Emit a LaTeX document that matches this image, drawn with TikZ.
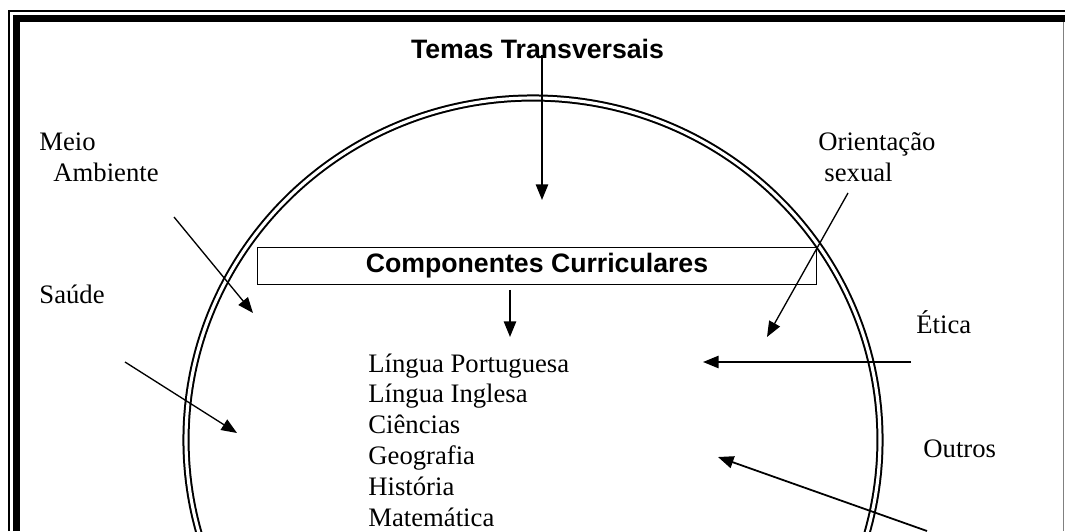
\documentclass[tikz,border=0pt]{standalone}
\usepackage{fontspec}
\setmainfont{Liberation Serif}
\setsansfont{Liberation Sans}
\usetikzlibrary{arrows.meta}
\tikzstyle{fleche} = [-{Triangle[length=7pt,width=5.5pt]},line width=0.6pt]
\tikzstyle{etiquette} = [anchor=base west,inner sep=0pt,font=\fontsize{12pt}{14pt}\selectfont]
\tikzstyle{titre} = [inner sep=0pt,font=\fontsize{12pt}{14pt}\selectfont\sffamily\bfseries]

\begin{document}
\begin{tikzpicture}[x=45pt,y=45pt]
	\useasboundingbox (0,0) rectangle (10.65,5.31);
	\clip (0,0) rectangle (10.65,5.31);

	% cadre
	\draw[line width=0.7pt] (0.09,0) -- (0.09,5.20) -- (10.65,5.20);
	\draw[line width=3.2pt] (0.165,0) -- (0.165,5.125) -- (10.65,5.125);
	\draw[gray,line width=0.6pt] (10.635,5.09) -- (10.635,0);

	% cercle
	\draw[double,double distance=1.4pt,line width=0.9pt] (5.33,0.91) ellipse [x radius=3.47,y radius=3.42];

	\node[titre,anchor=base] (temas) at (5.375,4.73) {Temas Transversais};
	\node[titre,draw,line width=0.8pt,minimum width=251.5pt,minimum height=16.7pt] (comp) at (5.37,2.65) {Componentes Curriculares};

	\node[etiquette] (meio) at (0.39,3.81) {Meio};
	\node[etiquette] (ambiente) at (0.53,3.50) {Ambiente};
	\node[etiquette] (saude) at (0.39,2.28) {Saúde};
	\node[etiquette] (orientacao) at (8.18,3.81) {Orientação};
	\node[etiquette] (sexual) at (8.24,3.50) {sexual};
	\node[etiquette] (etica) at (9.16,1.98) {Ética};
	\node[etiquette] (outros) at (9.23,0.74) {Outros};

	\node[etiquette] (lp) at (3.68,1.59) {Língua Portuguesa};
	\node[etiquette] (li) at (3.68,1.282) {Língua Inglesa};
	\node[etiquette] (cie) at (3.68,0.974) {Ciências};
	\node[etiquette] (geo) at (3.68,0.666) {Geografia};
	\node[etiquette] (hist) at (3.68,0.358) {História};
	\node[etiquette] (mat) at (3.68,0.05) {Matemática};

	% fleches
	\coordinate (temasA) at (5.42,4.76);
	\coordinate (temasB) at (5.42,3.31);
	\draw[fleche,line width=0.8pt] (temasA) -- (temasB);

	\coordinate (compB) at (5.10,1.94);
	\draw[fleche,line width=0.8pt] ([yshift=-2pt]comp.south -| compB) -- (compB);

	\coordinate (meioA) at (1.74,3.14);
	\coordinate (meioB) at (2.53,2.18);
	\draw[fleche] (meioA) -- (meioB);

	\coordinate (saudeA) at (1.25,1.69);
	\coordinate (saudeB) at (2.37,0.98);
	\draw[fleche] (saudeA) -- (saudeB);

	\coordinate (orientA) at (8.48,3.38);
	\coordinate (orientB) at (7.67,1.94);
	\draw[fleche] (orientA) -- (orientB);

	\coordinate (eticaA) at (9.11,1.69);
	\coordinate (eticaB) at (7.03,1.69);
	\draw[fleche,line width=0.8pt] (eticaA) -- (eticaB);

	\coordinate (outrosA) at (9.27,0);
	\coordinate (outrosB) at (7.18,0.74);
	\draw[fleche,line width=0.8pt] (outrosA) -- (outrosB);

\end{tikzpicture}
\end{document}
